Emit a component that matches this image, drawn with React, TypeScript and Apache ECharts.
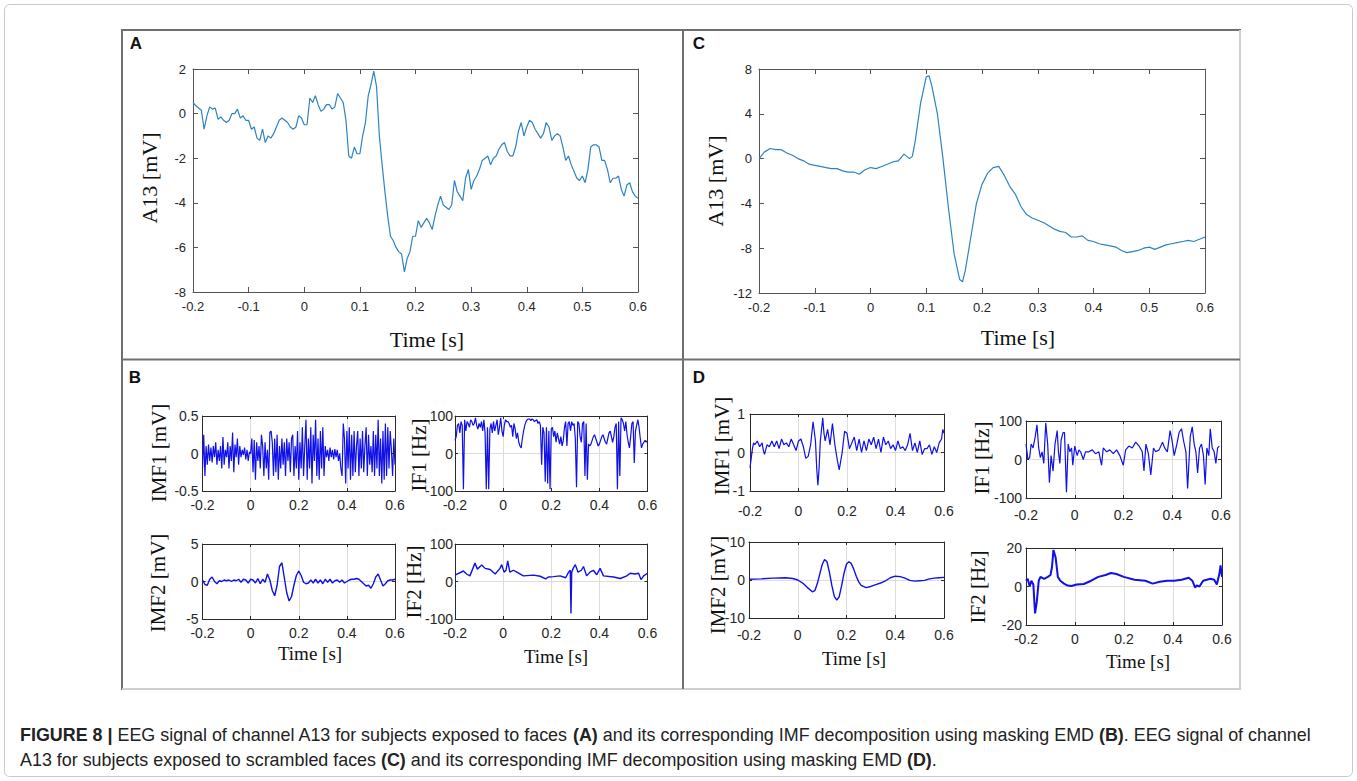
import React, { useEffect, useRef } from "react";
import * as echarts from "echarts";

// ---------- Panel A: EEG A13, faces (sampled every 5 ms from -0.2 s) ----------
const A_START = -0.2;
const A_STEP = 0.005;
const A_VALUES = [
  0.5, 0.35, 0.25, 0.15, -0.7, -0.1, 0.3, 0.2, 0.25, -0.25,
  -0.15, -0.3, -0.4, -0.3, 0.0, 0.0, 0.2, -0.2, -0.1, -0.3,
  -0.3, -0.7, -0.6, -1.1, -1.2, -0.7, -1.3, -1.0, -1.1, -0.9,
  -0.6, -0.3, -0.2, -0.3, -0.4, -0.6, -0.7, -0.6, -0.1, -0.2,
  -0.5, -0.5, 0.7, 0.5, 0.8, 0.4, 0.1, 0.2, 0.4, 0.4,
  0.2, 0.3, 0.9, 0.7, 0.5, -0.3, -1.9, -2.0, -1.5, -1.8,
  -1.8, -1.0, -0.4, 0.8, 1.3, 1.9, 1.2, -1.0, -2.3, -3.5,
  -4.6, -5.5, -5.7, -6.0, -6.2, -6.3, -7.1, -6.5, -6.2, -5.5,
  -5.5, -4.8, -5.1, -4.9, -4.7, -4.9, -5.2, -4.6, -4.1, -3.7,
  -4.1, -4.2, -4.3, -4.1, -3.0, -3.5, -3.7, -3.9, -2.9, -2.5,
  -3.4, -3.0, -2.8, -2.5, -2.1, -2.0, -1.9, -2.3, -2.0, -1.9,
  -1.6, -1.4, -1.3, -1.7, -1.9, -1.9, -1.5, -0.8, -0.4, -1.0,
  -0.6, -0.3, -0.4, -0.7, -0.9, -1.1, -0.9, -0.4, -0.6, -1.2,
  -1.0, -0.9, -1.0, -1.5, -2.1, -1.9, -2.3, -2.6, -2.9, -3.0,
  -2.8, -3.1, -2.5, -1.5, -1.4, -1.4, -1.5, -2.1, -2.1, -2.5,
  -3.1, -2.9, -2.9, -2.8, -3.4, -3.7, -3.2, -3.1, -3.5, -3.7,
  -3.8,
];

// ---------- Panel C: EEG A13, scrambled faces ----------
const C_TIMES = [
  -0.2, -0.19, -0.18, -0.17, -0.16, -0.15, -0.14, -0.13, -0.12, -0.11,
  -0.1, -0.09, -0.08, -0.07, -0.06, -0.05, -0.04, -0.03, -0.02, -0.01,
  0, 0.01, 0.02, 0.03, 0.04, 0.05, 0.06, 0.07, 0.075, 0.08,
  0.09, 0.1, 0.105, 0.11, 0.12, 0.13, 0.14, 0.15, 0.16, 0.165,
  0.17, 0.18, 0.19, 0.2, 0.21, 0.22, 0.23, 0.24, 0.25, 0.26,
  0.27, 0.28, 0.29, 0.3, 0.31, 0.32, 0.33, 0.34, 0.35, 0.36,
  0.37, 0.38, 0.39, 0.4, 0.41, 0.42, 0.43, 0.44, 0.45, 0.46,
  0.47, 0.48, 0.49, 0.5, 0.51, 0.52, 0.53, 0.54, 0.55, 0.56,
  0.57, 0.58, 0.59, 0.6,
];
const C_VALUES = [
  0.0, 0.6, 0.9, 0.8, 0.8, 0.5, 0.3, 0.0, -0.2, -0.5,
  -0.6, -0.7, -0.8, -0.9, -0.9, -1.1, -1.2, -1.2, -1.4, -1.0,
  -0.8, -0.9, -0.7, -0.5, -0.3, -0.2, 0.4, 0.0, 0.2, 1.5,
  5.0, 7.3, 7.4, 6.5, 4.0, 0.0, -4.5, -8.5, -10.8, -11.0,
  -10.0, -7.0, -4.0, -2.3, -1.3, -0.8, -0.7, -1.5, -2.5, -3.2,
  -4.3, -5.0, -5.3, -5.5, -5.7, -6.0, -6.3, -6.5, -6.6, -7.0,
  -7.0, -6.9, -7.3, -7.4, -7.6, -7.7, -7.8, -7.9, -8.2, -8.4,
  -8.3, -8.2, -8.0, -7.9, -8.1, -7.9, -7.7, -7.6, -7.5, -7.4,
  -7.3, -7.4, -7.2, -7.0,
];

// ---------- Panel B: masking EMD of A ----------
const B_START = -0.2;
const B_STEP = 0.005;
const B_IMF1 = [
  -0.2, 0.25, -0.3, 0.1, -0.15, 0.12, -0.1, 0.08, -0.12, 0.1,
  -0.05, 0.15, -0.15, 0.05, -0.1, 0.1, -0.2, 0.22, -0.15, 0.05,
  -0.05, 0.15, -0.2, 0.1, -0.1, 0.28, -0.25, 0.12, -0.05, 0.2,
  -0.15, 0.1, -0.05, 0.05, -0.02, 0.08, -0.08, 0.05, -0.1, 0.02,
  0.0, 0.2, -0.25, 0.18, -0.35, 0.15, -0.1, 0.1, -0.2, 0.25,
  0.1, -0.3, 0.15, -0.2, 0.05, -0.35, 0.28, 0.3, 0.15, -0.3,
  0.2, -0.25, 0.25, -0.35, 0.1, -0.2, 0.2, -0.15, 0.15, -0.3,
  0.2, -0.1, 0.15, -0.25, 0.2, 0.25, -0.3, 0.1, -0.2, 0.3,
  -0.35, 0.15, -0.2, 0.35, -0.3, 0.1, 0.45, -0.35, 0.2, -0.2,
  0.35, -0.4, 0.25, -0.1, 0.45, -0.3, 0.2, -0.35, 0.3, -0.2,
  0.35, -0.3, 0.1, -0.05, 0.05, -0.1, 0.08, -0.05, 0.05, -0.08,
  0.06, -0.05, 0.05, -0.1, 0.0, -0.2, -0.3, 0.4, 0.2, -0.4,
  0.3, -0.2, 0.35, -0.35, 0.25, -0.3, 0.3, -0.25, 0.1, 0.3,
  -0.3, 0.2, -0.2, 0.3, -0.25, 0.1, 0.35, -0.3, 0.25, -0.15,
  0.1, -0.25, 0.3, -0.3, 0.25, -0.2, 0.45, -0.3, 0.2, -0.4,
  0.3, -0.35, 0.4, -0.3, 0.35, -0.2, 0.3, 0.05, -0.3, 0.2,
  -0.15,
];
const B_IF1 = [
  35, 45, 75, 80, 55, 85, 75, -95, 90, 60,
  85, 80, 70, 90, 85, 75, 80, 95, 75, 65,
  80, 70, 85, 60, 90, 55, -95, 70, -95, 65,
  80, 55, 85, 60, 75, 90, 50, 70, 95, 60,
  45, 75, 90, 85, 85, 80, 70, 75, 45, 80,
  65, 40, 55, 30, 20, 15, 40, 60, 75, 85,
  90, 92, 92, 88, 92, 90, 85, 88, 90, 80,
  85, 75, -30, 70, 55, -75, 70, -80, 60, -95,
  65, 70, 45, 60, 30, 55, 40, 25, 45, 20,
  35, 70, 85, 20, 80, 85, 60, 85, 75, 80,
  40, -90, 85, 80, 45, 30, 80, 85, -60, 80,
  -70, 25, 20, 25, 35, 45, 50, 40, 30, 20,
  25, 35, 45, 50, 40, 30, 25, 40, 55, 60,
  45, 30, 45, 70, 80, -95, 85, -60, 95, 90,
  80, 60, 85, 50, 30, 15, 45, 80, 85, -25,
  60, 75, 90, 70, 40, 15, 25, 30, 35, 30,
  35,
];
const B_IMF2_TIMES = [
  -0.2, -0.19, -0.18, -0.17, -0.16, -0.15, -0.14, -0.13, -0.12, -0.11,
  -0.1, -0.09, -0.08, -0.07, -0.06, -0.05, -0.04, -0.03, -0.02, -0.01,
  0, 0.01, 0.02, 0.03, 0.04, 0.05, 0.06, 0.07, 0.08, 0.09,
  0.1, 0.11, 0.12, 0.13, 0.14, 0.15, 0.16, 0.17, 0.18, 0.19,
  0.2, 0.21, 0.22, 0.23, 0.24, 0.25, 0.26, 0.27, 0.28, 0.29,
  0.3, 0.31, 0.32, 0.33, 0.34, 0.35, 0.36, 0.37, 0.38, 0.39,
  0.4, 0.41, 0.42, 0.43, 0.44, 0.45, 0.46, 0.47, 0.48, 0.49,
  0.5, 0.51, 0.52, 0.53, 0.54, 0.55, 0.56, 0.57, 0.58, 0.59,
  0.6,
];
const B_IMF2 = [
  0.2, -0.4, -0.5, 0.3, 0.6, 0.0, -0.3, 0.1, 0.0, 0.2,
  0.1, 0.2, 0.0, 0.2, 0.1, 0.3, -0.1, 0.3, 0.2, -0.2,
  0.3, 0.2, -0.2, 0.4, -0.3, 0.3, -0.1, 1.0, 0.2, -1.2,
  -1.9, -0.5, 2.0, 2.5, 0.5, -1.5, -2.6, -2.0, -0.5, 0.8,
  1.4, 0.8, -0.1, -0.3, -0.2, 0.2, -0.2, 0.3, -0.2, 0.2,
  -0.3, 0.3, -0.1, 0.3, -0.2, 0.1, 0.2, -0.1, 0.2, -0.2,
  0.0, 0.2, 0.3, 0.3, 0.4, 0.3, 0.0, -0.3, -0.6, -0.5,
  -0.9, -0.3, 0.6, 1.0, 0.2, -0.6, -0.3, 0.1, 0.2, 0.2,
  0.3,
];
const B_IF2_TIMES = [
  -0.2, -0.165, -0.152, -0.138, -0.117, -0.107, -0.089, -0.075, -0.054, -0.033,
  -0.013, -0.006, 0.004, 0.012, 0.019, 0.028, 0.043, 0.057, 0.084, 0.126,
  0.154, 0.177, 0.188, 0.209, 0.237, 0.26, 0.272, 0.279, 0.282, 0.285,
  0.291, 0.3, 0.311, 0.325, 0.334, 0.347, 0.361, 0.375, 0.389, 0.403,
  0.417, 0.459, 0.487, 0.514, 0.528, 0.549, 0.563, 0.573, 0.584, 0.6,
];
const B_IF2 = [
  17, 28, 20, 15, 49, 33, 44, 35, 32, 20,
  35, 45, 25, 30, 55, 25, 30, 25, 15, 17,
  14, 7, 12, 13, 15, 10, 25, 30, -85, 25,
  35, 45, 25, 30, 40, 15, 25, 30, 18, 35,
  15, 12, 8, 15, 22, 20, 22, 5, 15, 22,
];

// ---------- Panel D: masking EMD of C ----------
const D_IMF1_TIMES = [
  -0.2, -0.19, -0.185, -0.18, -0.17, -0.16, -0.15, -0.145, -0.14, -0.13,
  -0.12, -0.11, -0.1, -0.09, -0.08, -0.07, -0.06, -0.05, -0.04, -0.03,
  -0.02, -0.01, 0, 0.01, 0.02, 0.03, 0.04, 0.05, 0.06, 0.07,
  0.075, 0.08, 0.085, 0.09, 0.1, 0.105, 0.11, 0.12, 0.13, 0.14,
  0.15, 0.16, 0.168, 0.18, 0.19, 0.2, 0.21, 0.22, 0.23, 0.24,
  0.25, 0.26, 0.27, 0.28, 0.29, 0.3, 0.31, 0.32, 0.33, 0.34,
  0.35, 0.36, 0.37, 0.38, 0.39, 0.4, 0.41, 0.42, 0.43, 0.44,
  0.45, 0.46, 0.47, 0.48, 0.49, 0.5, 0.51, 0.52, 0.53, 0.54,
  0.55, 0.56, 0.57, 0.58, 0.59, 0.595, 0.6,
];
const D_IMF1 = [
  -0.4, 0.1, 0.25, 0.2, 0.3, 0.15, 0.25, 0.05, -0.05, 0.2,
  0.15, 0.3, 0.15, 0.3, 0.1, 0.35, 0.2, 0.25, 0.15, 0.35,
  0.2, 0.05, 0.3, 0.35, 0.15, -0.15, -0.1, 0.2, 0.8, 0.3,
  -0.4, -0.85, -0.4, 0.3, 0.9, 0.5, 0.3, 0.6, 0.2, 0.75,
  0.2, -0.2, -0.45, 0.0, 0.55, 0.5, 0.1, 0.25, 0.4, 0.05,
  0.35, 0.0, 0.3, 0.05, 0.35, 0.2, 0.4, 0.1, 0.35, 0.0,
  0.4, 0.2, 0.3, 0.1, 0.2, 0.05, 0.3, 0.1, 0.15, 0.05,
  0.2, 0.5, 0.05, 0.25, 0.0, 0.3, -0.05, 0.1, 0.1, 0.2,
  -0.05, 0.15, 0.0, 0.25, 0.35, 0.6, 0.5,
];
const D_IF1_TIMES = [
  -0.2, -0.192, -0.185, -0.179, -0.171, -0.162, -0.155, -0.148, -0.141, -0.134,
  -0.127, -0.119, -0.111, -0.104, -0.097, -0.089, -0.081, -0.072, -0.067, -0.061,
  -0.056, -0.048, -0.042, -0.034, -0.027, -0.02, -0.013, -0.008, 0.0, 0.01,
  0.017, 0.024, 0.035, 0.044, 0.058, 0.072, 0.085, 0.099, 0.11, 0.117,
  0.131, 0.144, 0.158, 0.172, 0.185, 0.199, 0.209, 0.222, 0.236, 0.25,
  0.264, 0.277, 0.284, 0.292, 0.302, 0.312, 0.323, 0.332, 0.346, 0.36,
  0.369, 0.38, 0.391, 0.399, 0.408, 0.419, 0.428, 0.438, 0.446, 0.456,
  0.463, 0.474, 0.482, 0.49, 0.497, 0.504, 0.512, 0.52, 0.528, 0.535,
  0.542, 0.55, 0.556, 0.564, 0.572, 0.579, 0.586, 0.593,
];
const D_IF1 = [
  40, 0, 5, 40, 30, 60, 90, 30, 5, 20,
  -10, 95, 40, -60, 10, -30, 40, 75, 20, -10,
  50, 70, 70, -85, 40, 20, 30, -15, 35, 10,
  25, 20, 0, 20, 20, 25, 15, 20, -15, 30,
  20, 25, 15, 25, 10, -15, 25, 35, 30, 45,
  35, 20, -30, 40, 15, -40, 30, 20, 25, 45,
  30, 20, 75, 50, 10, 40, 70, 80, 50, 20,
  -75, 60, 85, 40, 20, -35, 30, 40, 10, -65,
  30, 10, 80, 30, 20, -10, 30, 35,
];
const D_IMF2_TIMES = [
  -0.2, -0.15, -0.1, -0.05, -0.02, 0, 0.02, 0.04, 0.06, 0.07,
  0.08, 0.09, 0.1, 0.11, 0.12, 0.13, 0.14, 0.15, 0.16, 0.17,
  0.18, 0.19, 0.2, 0.21, 0.22, 0.23, 0.24, 0.25, 0.26, 0.28,
  0.3, 0.32, 0.34, 0.36, 0.38, 0.4, 0.42, 0.44, 0.46, 0.48,
  0.5, 0.52, 0.54, 0.56, 0.58, 0.6,
];
const D_IMF2 = [
  0.2, 0.3, 0.5, 0.6, 0.4, 0.0, -0.8, -2.0, -3.1, -2.8,
  -1.0, 1.5, 4.0, 5.4, 4.8, 2.0, -1.5, -4.3, -5.3, -4.4,
  -1.5, 1.8, 4.2, 4.8, 4.3, 2.8, 1.0, -0.5, -1.4, -2.0,
  -1.7, -1.2, -0.8, -0.2, 0.6, 1.0, 0.9, 0.5, -0.1, -0.3,
  -0.2, -0.1, 0.3, 0.5, 0.6, 0.7,
];
const D_IF2_TIMES = [
  -0.2, -0.193, -0.185, -0.178, -0.17, -0.163, -0.156, -0.148, -0.141, -0.126,
  -0.111, -0.1, -0.094, -0.088, -0.079, -0.07, -0.06, -0.045, -0.03, -0.015,
  0.007, 0.036, 0.066, 0.095, 0.125, 0.147, 0.169, 0.199, 0.243, 0.287,
  0.317, 0.346, 0.376, 0.405, 0.435, 0.464, 0.479, 0.49, 0.497, 0.508,
  0.523, 0.553, 0.568, 0.579, 0.59, 0.594, 0.6,
];
const D_IF2 = [
  3, 4, 0, 3, 1, -14, -8, 3, 5, 4,
  5, 6, 10, 19, 15, 5, 3, 1.5, 0.5, 0.3,
  1, 1.3, 3, 5, 6, 7, 6.5, 5, 3.5, 3,
  1.5, 2.5, 3, 3, 3.5, 4.5, 3, -0.5, 0.5, 0,
  3, 4, 3.5, 1, 7, 11, 5,
];

// ---------- text ----------
const CAPTION_1 =
  "{b|FIGURE 8 |} EEG signal of channel A13 for subjects exposed to faces {b|(A)} and its corresponding IMF decomposition using masking EMD {b|(B)}. EEG signal of channel";
const CAPTION_2 =
  "A13 for subjects exposed to scrambled faces {b|(C)} and its corresponding IMF decomposition using masking EMD {b|(D)}.";

const SANS = '"Liberation Sans", Arial, sans-serif';
const SERIF = '"Liberation Serif", "Times New Roman", serif';
const EEG_BLUE = "#2f83c0";
const IMF_BLUE = "#1010e8";
const CAPTION_SIZE = 17.9;

const zip = (t: number[], v: number[]) => {
  const n = Math.min(t.length, v.length);
  const out: number[][] = [];
  for (let i = 0; i < n; i++) out.push([t[i], v[i]]);
  return out;
};
const regular = (start: number, step: number, v: number[]) =>
  v.map((y, i) => [Math.round((start + i * step) * 10000) / 10000, y]);

type Panel = {
  box: [number, number, number, number];
  x: [number, number, number];
  y: [number, number, number];
  data: number[][];
  color: string;
  lw: number;
  gridLines: boolean;
  font: number;
  xMargin: number;
  yMargin: number;
  tick: number;
  axisColor: string;
};

const fmt = (v: number) => String(Math.round(v * 1000) / 1000);

export default function App() {
  const ref = useRef<HTMLDivElement>(null);
  useEffect(() => {
    document.body.style.margin = "0";
    const chart = echarts.init(ref.current!, null, { renderer: "svg" });

    const small = (
      box: [number, number, number, number],
      y: [number, number, number],
      data: number[][],
      xMargin: number,
      yMargin: number,
      lw = 1.2
    ): Panel => ({
      box,
      x: [-0.2, 0.6, 0.2],
      y,
      data,
      color: IMF_BLUE,
      lw,
      gridLines: true,
      font: 14,
      xMargin,
      yMargin,
      tick: 3,
      axisColor: "#2b2b2b",
    });

    const panels: Panel[] = [
      {
        box: [193, 69, 445, 223], x: [-0.2, 0.6, 0.1], y: [-8, 2, 2],
        data: regular(A_START, A_STEP, A_VALUES), color: EEG_BLUE, lw: 1.2,
        gridLines: false, font: 13, xMargin: 8, yMargin: 7, tick: 5, axisColor: "#555",
      },
      {
        box: [759, 69, 446, 224], x: [-0.2, 0.6, 0.1], y: [-12, 8, 4],
        data: zip(C_TIMES, C_VALUES), color: EEG_BLUE, lw: 1.2,
        gridLines: false, font: 13, xMargin: 8, yMargin: 7, tick: 5, axisColor: "#555",
      },
      small([202.5, 416, 192.5, 75], [-0.5, 0.5, 0.5], regular(B_START, B_STEP, B_IMF1), 7, 4),
      small([455, 416, 192.5, 75], [-100, 100, 100], regular(B_START, B_STEP, B_IF1), 7, 2),
      small([202.5, 544, 192.5, 75], [-5, 5, 5], zip(B_IMF2_TIMES, B_IMF2), 7, 4, 1.4),
      small([455, 544, 192.5, 75], [-100, 100, 100], zip(B_IF2_TIMES, B_IF2), 7, 2, 1.4),
      small([750, 414, 194, 77], [-1, 1, 1], zip(D_IMF1_TIMES, D_IMF1), 13, 5),
      small([1026, 421, 195, 77], [-100, 100, 100], zip(D_IF1_TIMES, D_IF1), 10, 4),
      small([749, 542, 195, 76], [-10, 10, 10], zip(D_IMF2_TIMES, D_IMF2), 10, 4, 1.4),
      small([1026, 548, 196, 77], [-20, 20, 20], zip(D_IF2_TIMES, D_IF2), 7, 4, 2),
    ];

    const grid: any[] = [];
    const xAxis: any[] = [];
    const yAxis: any[] = [];
    const series: any[] = [];

    panels.forEach((p, i) => {
      const [left, top, width, height] = p.box;
      grid.push({ left, top, width, height, show: false, containLabel: false });
      const line = { show: true, onZero: false, lineStyle: { color: p.axisColor, width: 1 } };
      const tick = { show: true, inside: true, length: p.tick, lineStyle: { color: p.axisColor } };
      const split = {
        show: p.gridLines,
        showMinLine: false,
        showMaxLine: false,
        lineStyle: { color: "#dcdcdc", width: 1 },
      };
      const label = (margin: number) => ({
        show: true,
        margin,
        fontSize: p.font,
        fontFamily: SANS,
        color: "#262626",
        formatter: fmt,
        showMinLabel: true,
        showMaxLabel: true,
      });
      xAxis.push({
        type: "value", gridIndex: i, position: "bottom",
        min: p.x[0], max: p.x[1], interval: p.x[2],
        axisLine: line, axisTick: tick, axisLabel: label(p.xMargin), splitLine: split,
      });
      xAxis.push({
        type: "value", gridIndex: i, position: "top",
        min: p.x[0], max: p.x[1], interval: p.x[2], z: 5,
        axisLine: line, axisTick: tick, axisLabel: { show: false }, splitLine: { show: false },
      });
      yAxis.push({
        type: "value", gridIndex: i, position: "left",
        min: p.y[0], max: p.y[1], interval: p.y[2],
        axisLine: line, axisTick: tick, axisLabel: label(p.yMargin), splitLine: split,
      });
      yAxis.push({
        type: "value", gridIndex: i, position: "right",
        min: p.y[0], max: p.y[1], interval: p.y[2], z: 5,
        axisLine: line, axisTick: tick, axisLabel: { show: false }, splitLine: { show: false },
      });
      series.push({
        type: "line",
        xAxisIndex: 2 * i,
        yAxisIndex: 2 * i,
        data: p.data,
        showSymbol: false,
        symbol: "none",
        silent: true,
        lineStyle: { color: p.color, width: p.lw },
        z: 3,
      });
    });

    const txt = (
      text: string, x: number, y: number, font: string,
      opts: { rot?: boolean; align?: string; fill?: string } = {}
    ) => ({
      type: "text",
      x, y,
      rotation: opts.rot ? Math.PI / 2 : 0,
      silent: true,
      style: {
        text,
        font,
        fill: opts.fill || "#111",
        align: opts.align || "center",
        textAlign: opts.align || "center",
        verticalAlign: "middle",
        textVerticalAlign: "middle",
      },
    });
    const ln = (x1: number, y1: number, x2: number, y2: number, stroke: string, w = 2) => ({
      type: "line",
      silent: true,
      shape: { x1, y1, x2, y2 },
      style: { stroke, lineWidth: w },
    });

    const dark = "#707070";
    const light = "#cfcfcf";
    const graphic: any[] = [
      {
        type: "rect", silent: true,
        shape: { x: 4.5, y: 4.5, width: 1348, height: 772, r: 5 },
        style: { fill: "none", stroke: "#c9c9c9", lineWidth: 1 },
      },
      ln(122, 30, 1241, 30, dark),
      ln(122, 29, 122, 690, dark),
      ln(1240, 30, 1240, 689, light),
      ln(122, 689, 1241, 689, light),
      ln(683, 30, 683, 689, dark),
      ln(122, 359.5, 1240, 359.5, dark),
      txt("A", 136, 43, `bold 17px ${SANS}`),
      txt("C", 699, 43, `bold 17px ${SANS}`),
      txt("B", 135, 377, `bold 17px ${SANS}`),
      txt("D", 699, 377, `bold 17px ${SANS}`),
      txt("A13 [mV]", 149, 178, `22px ${SERIF}`, { rot: true }),
      txt("Time [s]", 427, 339, `22px ${SERIF}`),
      txt("A13 [mV]", 715, 181, `22px ${SERIF}`, { rot: true }),
      txt("Time [s]", 1018, 337, `22px ${SERIF}`),
      txt("IMF1 [mV]", 159, 453, `21px ${SERIF}`, { rot: true }),
      txt("IF1 [Hz]", 419, 455, `21px ${SERIF}`, { rot: true }),
      txt("IMF2 [mV]", 158, 583, `21px ${SERIF}`, { rot: true }),
      txt("IF2 [Hz]", 414, 582, `21px ${SERIF}`, { rot: true }),
      txt("Time [s]", 310, 653, `19px ${SERIF}`),
      txt("Time [s]", 556, 656, `19px ${SERIF}`),
      txt("IMF1 [mV]", 722, 446, `21px ${SERIF}`, { rot: true }),
      txt("IF1 [Hz]", 982, 458, `21px ${SERIF}`, { rot: true }),
      txt("IMF2 [mV]", 718, 585, `21px ${SERIF}`, { rot: true }),
      txt("IF2 [Hz]", 978, 587, `21px ${SERIF}`, { rot: true }),
      txt("Time [s]", 854, 658, `19px ${SERIF}`),
      txt("Time [s]", 1138, 661, `19px ${SERIF}`),
    ];
    const rich = {
      b: { fontWeight: "bold", fontSize: CAPTION_SIZE, fontFamily: SANS, fill: "#222", color: "#222" },
    };
    [CAPTION_1, CAPTION_2].forEach((c, k) => {
      graphic.push({
        type: "text",
        x: 20,
        y: 735 + k * 25,
        silent: true,
        style: {
          text: c,
          font: `${CAPTION_SIZE}px ${SANS}`,
          fill: "#222",
          align: "left",
          textAlign: "left",
          verticalAlign: "middle",
          textVerticalAlign: "middle",
          rich,
        },
      });
    });

    chart.setOption({
      animation: false,
      backgroundColor: "#ffffff",
      grid,
      xAxis,
      yAxis,
      series,
      graphic,
    });
    return () => chart.dispose();
  }, []);
  return <div ref={ref} style={{ width: 1357, height: 781 }} />;
}
